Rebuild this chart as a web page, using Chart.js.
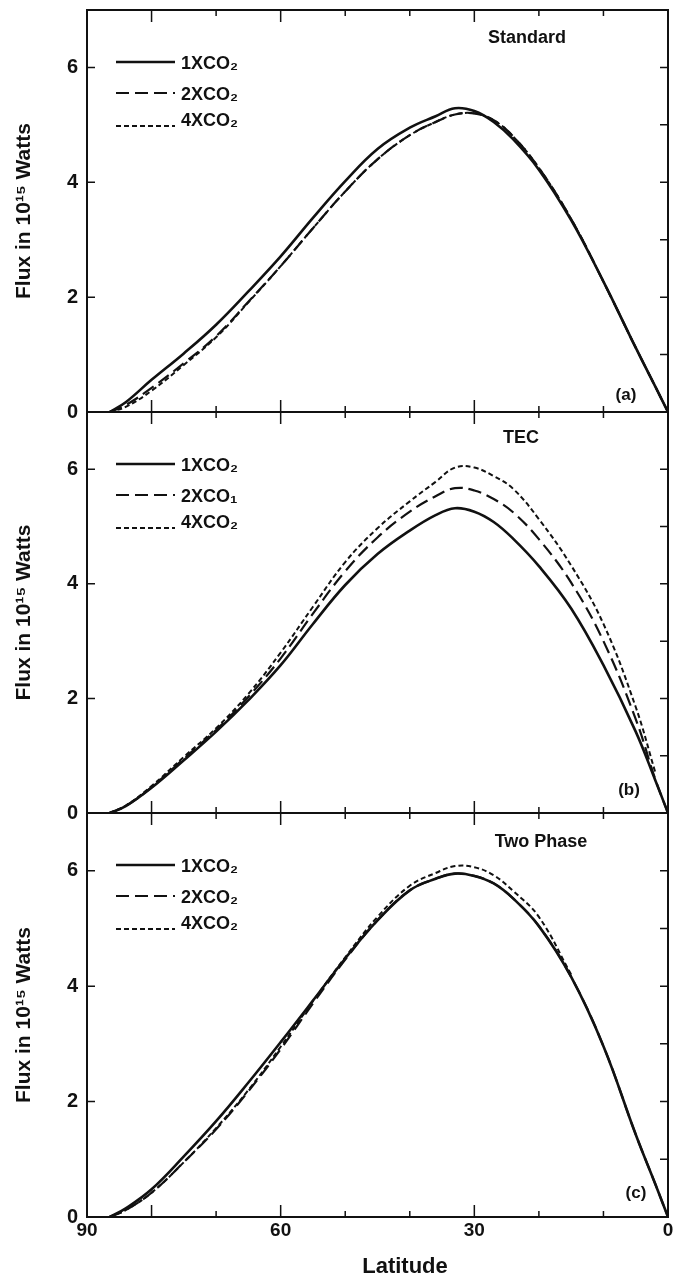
<!DOCTYPE html>
<html lang="en">
<head>
<meta charset="utf-8" />
<title>Meridional energy flux</title>
<script src="https://cdn.jsdelivr.net/npm/chart.js@4.4.0/dist/chart.umd.min.js"></script>
<style>
  html, body { margin: 0; padding: 0; background: #fff; width: 674px; height: 1280px; overflow: hidden; position: relative; }
  canvas { position: absolute; left: 0; }
</style>
</head>
<body>
<canvas id="chartA" width="700" height="450" style="top:-14px"></canvas>
<canvas id="chartB" width="700" height="449" style="top:388px"></canvas>
<canvas id="chartC" width="700" height="491" style="top:789px"></canvas>
<script>
// latitude grid shared by all curves (degrees, 90 on the left)
const latitude = [86.5, 84, 80, 75, 70, 65, 60, 55, 50, 45, 40, 36, 33, 30, 27, 24, 20, 15, 10, 5, 2, 0];

// (a) Standard
const std1x = [0, 0.17, 0.56, 1.02, 1.52, 2.1, 2.71, 3.38, 4.02, 4.58, 4.95, 5.15, 5.29, 5.24, 5.05, 4.75, 4.22, 3.34, 2.27, 1.12, 0.45, 0];
const std2x = [0, 0.12, 0.42, 0.85, 1.32, 1.92, 2.54, 3.2, 3.84, 4.4, 4.82, 5.05, 5.18, 5.2, 5.08, 4.8, 4.25, 3.36, 2.27, 1.12, 0.45, 0];
const std4x = [0, 0.09, 0.37, 0.82, 1.3, 1.91, 2.54, 3.2, 3.84, 4.4, 4.82, 5.05, 5.18, 5.2, 5.08, 4.8, 4.25, 3.36, 2.27, 1.12, 0.45, 0];

// (b) TEC
const tec1x = [0, 0.12, 0.44, 0.92, 1.42, 1.97, 2.58, 3.3, 3.98, 4.52, 4.93, 5.2, 5.32, 5.26, 5.08, 4.79, 4.31, 3.57, 2.58, 1.42, 0.58, 0];
const tec2x = [0, 0.12, 0.45, 0.95, 1.45, 2.03, 2.7, 3.48, 4.22, 4.81, 5.26, 5.53, 5.67, 5.63, 5.48, 5.25, 4.78, 4.02, 3.0, 1.64, 0.6, 0];
const tec4x = [0, 0.13, 0.47, 0.98, 1.48, 2.08, 2.8, 3.6, 4.38, 4.97, 5.44, 5.78, 6.03, 6.03, 5.88, 5.66, 5.13, 4.32, 3.3, 1.85, 0.72, null];

// (c) Two Phase
const two1x = [0, 0.15, 0.48, 1.05, 1.66, 2.33, 3.03, 3.75, 4.48, 5.14, 5.66, 5.86, 5.95, 5.91, 5.78, 5.52, 5.04, 4.16, 2.96, 1.43, 0.58, 0];
const two2x = [0, 0.12, 0.42, 0.95, 1.52, 2.18, 2.91, 3.7, 4.46, 5.14, 5.66, 5.86, 5.95, 5.91, 5.78, 5.52, 5.04, 4.16, 2.96, 1.43, 0.58, 0];
const two4x = [0, 0.12, 0.42, 0.95, 1.54, 2.2, 2.95, 3.74, 4.5, 5.2, 5.74, 5.96, 6.08, 6.06, 5.92, 5.65, 5.2, 4.2, null, null, null, null];

// axis ticks
const latTicks = [10, 20, 30, 40, 50, 60, 70, 80];
const latMajor = [30, 60, 80];
const latLabels = [90, 60, 30, 0];
const fluxTicks = [1, 2, 3, 4, 5, 6];
const fluxLabels = [0, 2, 4, 6];

const ink = '#111';
const face = '"Liberation Sans", Arial, Helvetica, sans-serif';
const lineWidths = [2.6, 2.2, 2];
const lineDashes = [[], [13, 6], [5, 3]];
const legendRows = [52, 83, 116];
const legendTextDy = [2, 2, -5];

// frame, inward ticks, panel name, tag and legend
const panelDecor = {
  id: 'panelDecor',
  afterDraw(chart, args, opts) {
    const { ctx, chartArea: a, scales: { x, y } } = chart;
    ctx.save();
    ctx.strokeStyle = ink;
    ctx.fillStyle = ink;
    ctx.lineWidth = 2;
    ctx.strokeRect(a.left, a.top, a.right - a.left, a.bottom - a.top);

    ctx.lineWidth = 1.5;
    ctx.beginPath();
    latTicks.forEach(v => {
      const px = x.getPixelForValue(v);
      const len = latMajor.includes(v) ? 12 : 6;
      ctx.moveTo(px, a.bottom); ctx.lineTo(px, a.bottom - len);
      ctx.moveTo(px, a.top); ctx.lineTo(px, a.top + len);
    });
    fluxTicks.forEach(v => {
      const py = y.getPixelForValue(v);
      ctx.moveTo(a.right, py); ctx.lineTo(a.right - 8, py);
      if (fluxLabels.includes(v)) { ctx.moveTo(a.left, py); ctx.lineTo(a.left + 8, py); }
    });
    ctx.stroke();

    ctx.font = 'bold 18px ' + face;
    ctx.textAlign = 'center';
    ctx.textBaseline = 'middle';
    ctx.fillText(opts.title, opts.titleX, a.top + opts.titleDy);
    ctx.font = 'bold 17px ' + face;
    ctx.fillText(opts.tag, opts.tagX, a.bottom - opts.tagDy);

    ctx.font = 'bold 18px ' + face;
    ctx.textAlign = 'left';
    chart.data.datasets.forEach((ds, i) => {
      const ly = a.top + legendRows[i];
      ctx.lineWidth = ds.borderWidth;
      ctx.setLineDash(ds.borderDash);
      ctx.beginPath();
      ctx.moveTo(116, ly); ctx.lineTo(175, ly);
      ctx.stroke();
      ctx.setLineDash([]);
      ctx.fillText(ds.label, 181, ly + legendTextDy[i]);
    });
    ctx.restore();
  }
};

function makePanel(id, names, series, decor, showX) {
  const datasets = series.map((vals, i) => ({
    label: names[i],
    data: latitude.map((lat, k) => ({ x: lat, y: vals[k] })).filter(p => p.y !== null),
    borderColor: ink,
    backgroundColor: ink,
    borderWidth: lineWidths[i],
    borderDash: lineDashes[i],
    pointRadius: 0,
    fill: false,
    tension: 0.4
  }));

  const xScale = {
    type: 'linear',
    min: 0,
    max: 90,
    reverse: true,
    display: showX,
    grid: { display: false },
    border: { display: false },
    ticks: {
      stepSize: 30,
      padding: -6,
      color: ink,
      font: { family: face, size: 19, weight: 'bold' },
      maxRotation: 0,
      callback: v => latLabels.includes(v) ? String(v) : null
    },
    title: {
      display: true,
      text: '\u2002\u2002\u2002\u2002\u2002Latitude',
      color: ink,
      padding: { top: 0, bottom: 0 },
      font: { family: face, size: 22, weight: 'bold' }
    }
  };
  if (showX) xScale.afterFit = s => { s.height = 63; };

  return new Chart(document.getElementById(id), {
    type: 'line',
    data: { datasets },
    plugins: [panelDecor],
    options: {
      responsive: false,
      animation: false,
      devicePixelRatio: 1,
      layout: { padding: { top: 24, bottom: showX ? 0 : 24, right: 32, left: 0 } },
      plugins: {
        legend: { display: false },
        tooltip: { enabled: false },
        panelDecor: decor
      },
      scales: {
        x: xScale,
        y: {
          type: 'linear',
          min: 0,
          max: 7,
          grid: { display: false },
          border: { display: false },
          afterFit: s => { s.width = 87; },
          ticks: {
            stepSize: 1,
            padding: 1,
            color: ink,
            font: { family: face, size: 20, weight: 'bold' },
            callback: v => fluxLabels.includes(v) ? String(v) : null
          },
          title: {
            display: true,
            text: 'Flux in 10¹⁵ Watts',
            color: ink,
            padding: { top: 12, bottom: 0 },
            font: { family: face, size: 21, weight: 'bold' }
          }
        }
      }
    }
  });
}

makePanel('chartA', ['1XCO₂', '2XCO₂', '4XCO₂'], [std1x, std2x, std4x],
  { title: 'Standard', titleX: 527, titleDy: 28, tag: '(a)', tagX: 626, tagDy: 17 }, false);
makePanel('chartB', ['1XCO₂', '2XCO₁', '4XCO₂'], [tec1x, tec2x, tec4x],
  { title: 'TEC', titleX: 521, titleDy: 26, tag: '(b)', tagX: 629, tagDy: 23 }, false);
makePanel('chartC', ['1XCO₂', '2XCO₂', '4XCO₂'], [two1x, two2x, two4x],
  { title: 'Two Phase', titleX: 541, titleDy: 29, tag: '(c)', tagX: 636, tagDy: 24 }, true);
</script>
</body>
</html>
